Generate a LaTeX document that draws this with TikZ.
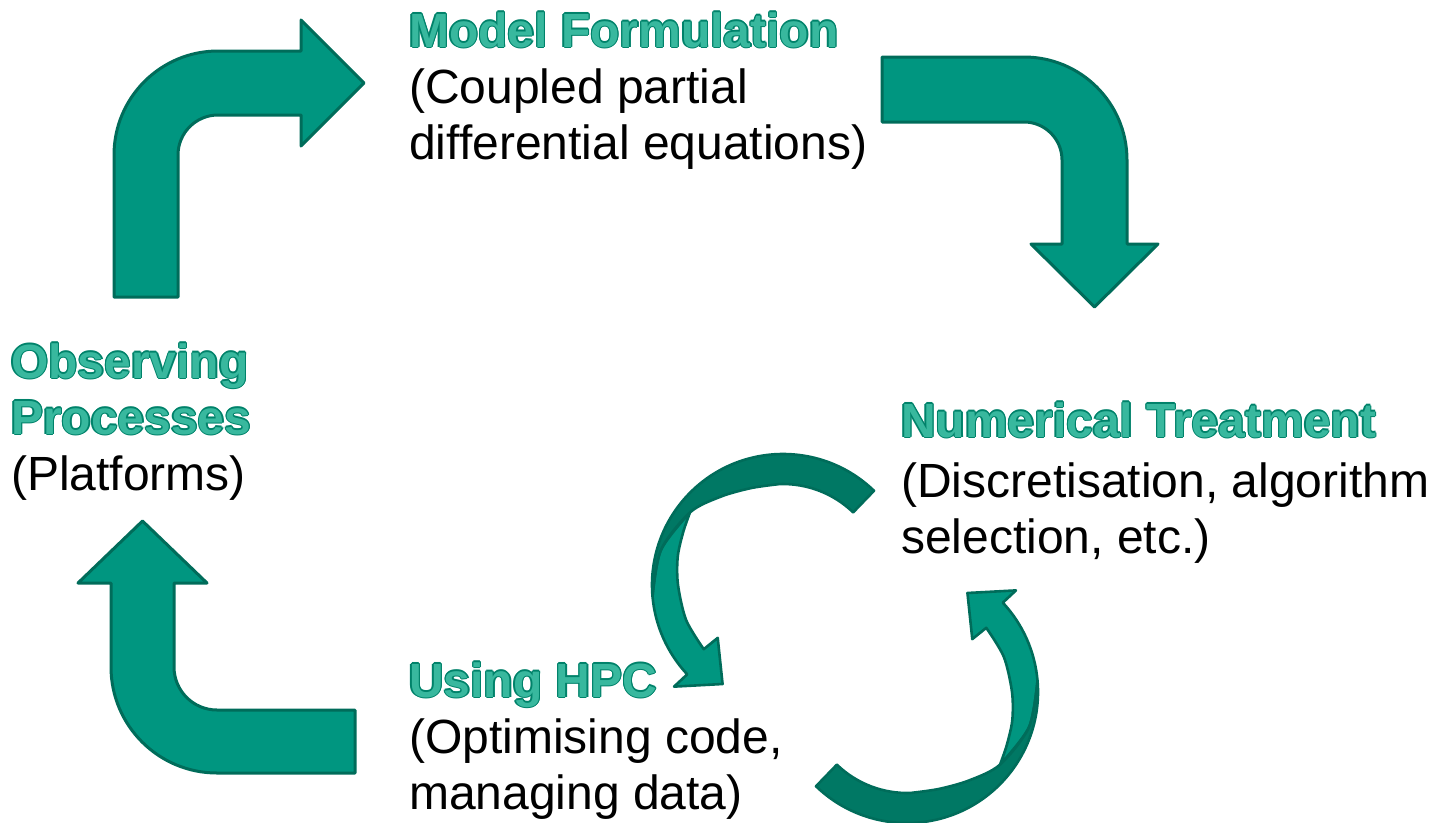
\documentclass[tikz,border=0pt]{standalone}
\usepackage{fontspec}
\setmainfont{Liberation Sans}
\usetikzlibrary{calc}
\definecolor{tfill}{RGB}{0,150,128}
\definecolor{tline}{RGB}{0,108,90}
\definecolor{tdark}{RGB}{0,120,100}
\definecolor{ttext}{RGB}{56,184,158}
\definecolor{tout}{RGB}{0,130,106}
\newcommand{\glowttl}[1]{\leavevmode
 \rlap{\kern1.3pt\textcolor{tout}{#1}}%
 \rlap{\kern-1.3pt\textcolor{tout}{#1}}%
 \rlap{\raisebox{1.3pt}{\textcolor{tout}{#1}}}%
 \rlap{\raisebox{-1.3pt}{\textcolor{tout}{#1}}}%
 \rlap{\kern0.9pt\raisebox{0.9pt}{\textcolor{tout}{#1}}}%
 \rlap{\kern-0.9pt\raisebox{0.9pt}{\textcolor{tout}{#1}}}%
 \rlap{\kern0.9pt\raisebox{-0.9pt}{\textcolor{tout}{#1}}}%
 \rlap{\kern-0.9pt\raisebox{-0.9pt}{\textcolor{tout}{#1}}}%
 \textcolor{ttext}{#1}}
\tikzset{
 blk/.style={anchor=base west, inner sep=0pt, font=\fontsize{48}{56}\selectfont},
 bent/.style={fill=tfill, draw=tline, line width=3pt, line join=round},
 lightface/.style={fill=tfill, draw=tline, line width=2.6pt, line join=round},
 darkface/.style={fill=tdark, draw=tline, line width=2.6pt, line join=round}
}
\newcommand{\swirl}{%
 \path[lightface] plot[smooth] coordinates {(218:118) (196:127) (175:131)}
   arc[start angle=175, end angle=137, radius=131]
   -- (137:149) -- (121.4:116) -- (141:84) -- (141:102)
   -- plot[smooth] coordinates {(141:102) (160:103) (180:105) (195:109) (208:113) (218:118)} -- cycle;
 \path[darkface] (314:131) arc[start angle=314, end angle=175, radius=131]
   -- plot[smooth] coordinates {(175:131) (196:127) (218:118) (235:108) (252:102) (268:101)}
   arc[start angle=268, end angle=314, radius=101] -- cycle;
}
\begin{document}
\begin{tikzpicture}[x=1pt, y=-1pt]
\useasboundingbox (0,0) rectangle (1439,822);
% bent arrows
\path[bent] (114,297) -- (114,155) arc[start angle=180, end angle=270, radius=104]
  -- (301,51) -- (301,20) -- (364,83) -- (301,146) -- (301,115) -- (218,115)
  arc[start angle=270, end angle=180, radius=40] -- (178,297) -- cycle;
\path[bent] (882,57) -- (1024,57) arc[start angle=270, end angle=360, radius=103]
  -- (1127,244) -- (1158,244) -- (1094.5,307) -- (1031,244) -- (1062,244) -- (1062,160)
  arc[start angle=0, end angle=-90, radius=38] -- (882,122) -- cycle;
\path[bent] (355,773) -- (217,773) arc[start angle=90, end angle=180, radius=106]
  -- (111,583) -- (78,583) -- (142.5,521) -- (207,583) -- (174,583) -- (174,667)
  arc[start angle=180, end angle=90, radius=43] -- (355,710) -- cycle;
% circular arrows
\begin{scope}[shift={(783,585)}]\swirl\end{scope}
\begin{scope}[shift={(907,692)}, rotate=180]\swirl\end{scope}
% texts
\node[blk] (mf) at (409,47) {\begin{tabular}[t]{@{}l@{}}\glowttl{\bfseries Model Formulation}\\(Coupled partial\\differential equations)\end{tabular}};
\node[blk] (nt) at (901,437) {\begin{tabular}[t]{@{}l@{}}\glowttl{\bfseries Numerical Treatment}\\[4pt](Discretisation, algorithm\\selection, etc.)\end{tabular}};
\node[blk] (op) at (11,378) {\begin{tabular}[t]{@{}l@{}}\glowttl{\bfseries Observing}\\\glowttl{\bfseries Processes}\\(Platforms)\end{tabular}};
\node[blk] (hpc) at (409,697) {\begin{tabular}[t]{@{}l@{}}\glowttl{\bfseries Using HPC}\\(Optimising code,\\managing data)\end{tabular}};
\end{tikzpicture}
\end{document}
